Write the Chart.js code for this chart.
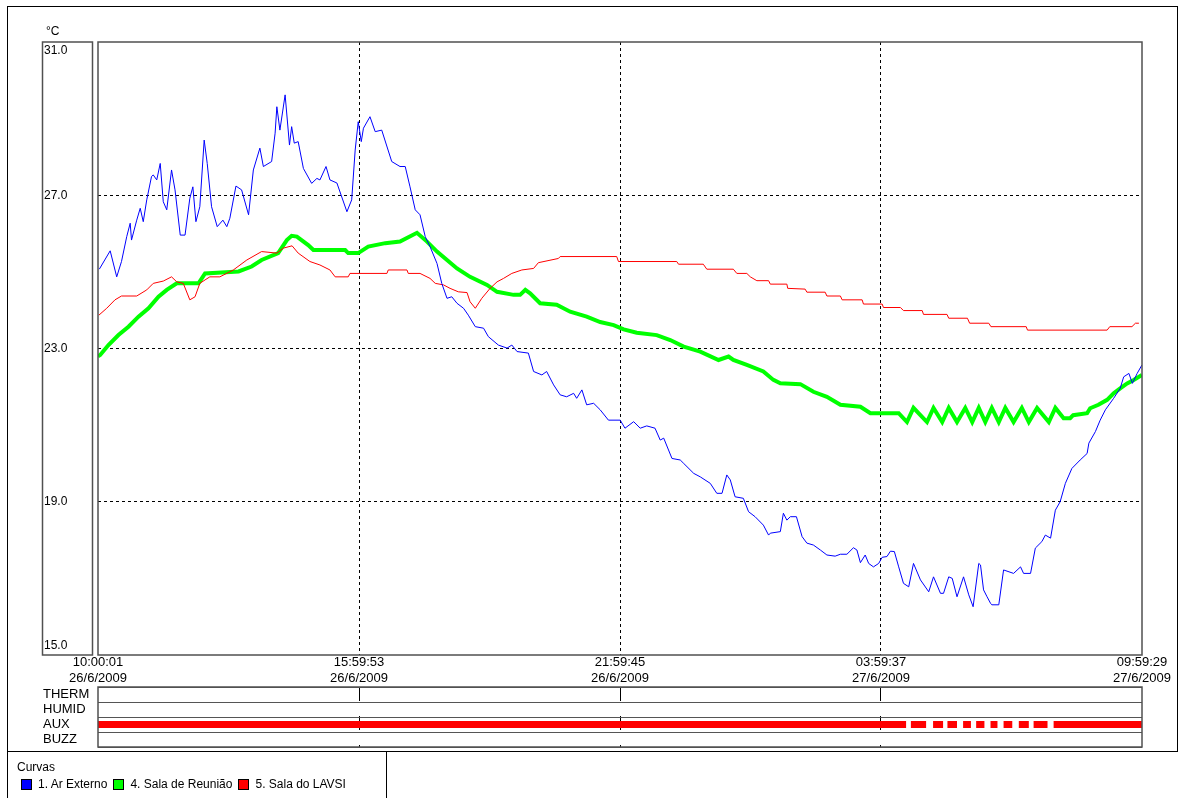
<!DOCTYPE html>
<html>
<head>
<meta charset="utf-8">
<script src="https://cdn.jsdelivr.net/npm/chart.js@4.4.0/dist/chart.umd.min.js"></script>
<style>
  body { margin: 0; background: #fff; font-family: "Liberation Sans", Arial, sans-serif; }
  #page { position: relative; width: 1180px; height: 798px; overflow: hidden; background: #fff; }
  #frame { position: absolute; left: 7px; top: 6px; width: 1169px; height: 744px; border: 1px solid #000; }
  #legendBox { position: absolute; left: 7px; top: 751px; width: 378px; height: 60px;
    border-left: 1px solid #000; border-right: 1px solid #000; }
  #legendTitle { position: absolute; left: 9px; top: 9px; font-size: 12px; color: #000; }
  #legendItems { position: absolute; left: 13px; top: 26px; display: flex; font-size: 12px; color: #000; white-space: nowrap; }
  .item { display: flex; align-items: center; margin-right: 6px; }
  .swatch { width: 9px; height: 9px; border: 1px solid #000; margin-right: 6px; }
  canvas { position: absolute; left: 0; }
</style>
</head>
<body>
<div id="page">
  <div id="frame"></div>
  <canvas id="mainChart" width="1180" height="690" style="top:0"></canvas>
  <canvas id="statusChart" width="1180" height="72" style="top:680px"></canvas>
  <div id="legendBox">
    <div id="legendTitle">Curvas</div>
    <div id="legendItems"></div>
  </div>
</div>
<script>
// time axis in hours since 10:00:01 26/6/2009
const xEnd = 23.9911;
const xTickHours = [0, 5.9978, 11.9956, 17.9933, 23.9911];
const xTickLabels = [
  ['10:00:01', '26/6/2009'],
  ['15:59:53', '26/6/2009'],
  ['21:59:45', '26/6/2009'],
  ['03:59:37', '27/6/2009'],
  ['09:59:29', '27/6/2009']
];
const yTickValues = [15, 19, 23, 27, 31];

const seriesNames = ['1. Ar Externo', '4. Sala de Reunião', '5. Sala do LAVSI'];
const seriesColors = ['#0000ff', '#00ff00', '#ff0000'];

// [hour, °C]
const arExterno = [[0.03,25.07],[0.28,25.55],[0.43,24.87],[0.54,25.27],[0.66,25.92],[0.74,26.27],[0.77,25.83],[0.89,26.35],[0.97,26.66],[1.04,26.31],[1.12,26.88],[1.23,27.49],[1.27,27.53],[1.35,27.40],[1.43,27.83],[1.50,26.83],[1.58,26.62],[1.69,27.66],[1.77,27.14],[1.89,25.96],[2.00,25.96],[2.11,26.92],[2.18,27.22],[2.25,26.31],[2.34,26.70],[2.44,28.44],[2.51,27.83],[2.61,26.70],[2.74,26.18],[2.87,26.35],[2.96,26.18],[3.03,26.40],[3.17,27.24],[3.30,27.14],[3.46,26.49],[3.57,27.66],[3.72,28.23],[3.80,27.75],[3.99,27.88],[4.07,28.62],[4.11,29.31],[4.18,28.70],[4.30,29.62],[4.40,28.31],[4.45,28.79],[4.51,28.36],[4.60,28.40],[4.72,27.70],[4.91,27.31],[5.03,27.44],[5.10,27.40],[5.24,27.75],[5.33,27.40],[5.49,27.32],[5.72,26.57],[5.83,26.88],[5.91,28.18],[5.98,28.92],[6.05,28.40],[6.10,28.75],[6.25,29.05],[6.37,28.66],[6.52,28.70],[6.75,27.88],[6.94,27.75],[7.06,27.75],[7.17,27.22],[7.29,26.62],[7.40,26.49],[7.52,25.92],[7.63,25.66],[7.79,25.22],[7.90,24.70],[8.02,24.31],[8.13,24.35],[8.25,24.18],[8.40,24.05],[8.51,23.87],[8.67,23.57],[8.86,23.53],[8.97,23.31],[9.20,23.09],[9.40,23.01],[9.51,23.09],[9.63,22.92],[9.89,22.88],[10.01,22.40],[10.20,22.31],[10.31,22.40],[10.47,22.05],[10.62,21.79],[10.77,21.74],[10.93,21.83],[11.00,21.70],[11.12,21.92],[11.23,21.53],[11.39,21.57],[11.54,21.40],[11.73,21.13],[12.00,21.13],[12.11,20.92],[12.31,21.09],[12.46,20.92],[12.61,20.98],[12.80,20.92],[12.92,20.61],[13.00,20.66],[13.19,20.13],[13.38,20.09],[13.46,20.00],[13.69,19.74],[13.84,19.65],[14.07,19.48],[14.22,19.22],[14.34,19.22],[14.45,19.70],[14.53,19.57],[14.64,19.13],[14.83,19.09],[14.95,18.74],[15.10,18.61],[15.29,18.39],[15.41,18.13],[15.45,18.18],[15.68,18.22],[15.75,18.70],[15.83,18.52],[15.91,18.61],[16.05,18.61],[16.18,18.09],[16.29,17.92],[16.44,17.87],[16.60,17.74],[16.75,17.61],[16.94,17.58],[17.06,17.63],[17.21,17.63],[17.36,17.80],[17.44,17.74],[17.52,17.41],[17.63,17.61],[17.71,17.39],[17.82,17.30],[17.94,17.39],[18.02,17.55],[18.13,17.57],[18.21,17.71],[18.30,17.70],[18.40,17.30],[18.51,16.87],[18.63,16.78],[18.74,17.39],[18.90,16.96],[19.09,16.65],[19.20,17.04],[19.36,16.61],[19.43,16.61],[19.55,17.04],[19.63,17.00],[19.74,16.52],[19.89,17.04],[20.01,16.57],[20.11,16.26],[20.24,17.39],[20.28,17.35],[20.35,16.70],[20.43,16.52],[20.51,16.35],[20.54,16.31],[20.70,16.31],[20.81,17.22],[21.04,17.13],[21.20,17.30],[21.27,17.13],[21.43,17.13],[21.54,17.79],[21.69,17.96],[21.77,18.13],[21.89,18.05],[22.00,18.78],[22.11,19.00],[22.23,19.48],[22.38,19.87],[22.57,20.09],[22.73,20.26],[22.77,20.53],[22.92,20.83],[23.03,21.13],[23.15,21.40],[23.34,21.70],[23.49,21.96],[23.57,22.26],[23.69,22.35],[23.77,22.09],[23.88,22.35],[23.99,22.57]];

const salaReuniao = [[0.00,22.80],[0.05,22.83],[0.24,23.09],[0.47,23.35],[0.70,23.57],[0.93,23.83],[1.16,24.05],[1.39,24.35],[1.58,24.53],[1.81,24.70],[2.31,24.70],[2.46,24.96],[3.23,25.01],[3.53,25.14],[3.76,25.31],[4.14,25.49],[4.34,25.83],[4.45,25.94],[4.57,25.92],[4.83,25.70],[4.95,25.57],[5.68,25.57],[5.75,25.49],[5.98,25.49],[6.21,25.66],[6.60,25.75],[6.94,25.79],[7.33,26.02],[7.56,25.79],[7.79,25.53],[8.02,25.31],[8.25,25.09],[8.55,24.87],[8.94,24.66],[9.17,24.48],[9.55,24.40],[9.70,24.40],[9.82,24.53],[9.93,24.44],[10.16,24.18],[10.54,24.14],[10.85,23.96],[11.23,23.83],[11.54,23.69],[11.85,23.61],[12.08,23.50],[12.38,23.41],[12.84,23.35],[13.15,23.22],[13.46,23.05],[13.84,22.92],[14.26,22.70],[14.49,22.79],[14.60,22.70],[14.91,22.57],[15.29,22.40],[15.52,22.18],[15.68,22.09],[16.14,22.07],[16.44,21.87],[16.75,21.74],[17.06,21.53],[17.52,21.48],[17.75,21.31],[18.40,21.31],[18.59,21.08],[18.74,21.45],[19.05,21.08],[19.20,21.45],[19.40,21.08],[19.55,21.45],[19.74,21.08],[19.93,21.45],[20.09,21.08],[20.24,21.45],[20.39,21.08],[20.54,21.45],[20.70,21.08],[20.85,21.45],[21.04,21.08],[21.23,21.45],[21.39,21.08],[21.58,21.45],[21.85,21.08],[22.00,21.45],[22.19,21.18],[22.34,21.18],[22.41,21.26],[22.73,21.31],[22.80,21.44],[22.99,21.53],[23.19,21.66],[23.34,21.83],[23.49,21.96],[23.65,22.09],[23.80,22.18],[23.99,22.31]];

const salaLavsi = [[0.02,23.87],[0.20,24.05],[0.39,24.27],[0.54,24.37],[0.89,24.37],[1.12,24.53],[1.27,24.70],[1.50,24.76],[1.69,24.87],[1.81,24.74],[1.96,24.70],[2.11,24.27],[2.23,24.35],[2.34,24.70],[2.46,24.79],[2.57,24.87],[2.80,24.87],[3.11,25.05],[3.42,25.31],[3.76,25.53],[4.11,25.49],[4.26,25.62],[4.46,25.68],[4.60,25.49],[4.87,25.27],[5.10,25.18],[5.33,25.05],[5.45,24.87],[5.75,24.87],[5.79,24.96],[6.64,24.96],[6.67,25.05],[7.10,25.05],[7.13,24.96],[7.40,24.96],[7.63,24.83],[7.75,24.70],[7.94,24.66],[8.09,24.57],[8.28,24.48],[8.48,24.46],[8.55,24.22],[8.67,24.05],[8.82,24.31],[9.01,24.57],[9.17,24.74],[9.32,24.83],[9.51,24.96],[9.74,25.05],[10.01,25.09],[10.12,25.24],[10.58,25.35],[10.62,25.40],[11.92,25.40],[11.96,25.27],[13.30,25.27],[13.34,25.20],[13.91,25.20],[13.99,25.07],[14.60,25.07],[14.68,24.96],[14.91,24.96],[14.99,24.87],[15.14,24.77],[15.41,24.77],[15.45,24.68],[15.83,24.68],[15.85,24.57],[16.25,24.55],[16.29,24.47],[16.71,24.47],[16.75,24.37],[17.06,24.37],[17.10,24.27],[17.56,24.27],[17.59,24.16],[18.02,24.16],[18.05,24.07],[18.44,24.07],[18.51,23.99],[18.94,23.99],[18.97,23.89],[19.51,23.89],[19.55,23.79],[19.98,23.79],[20.03,23.66],[20.47,23.66],[20.52,23.57],[21.33,23.57],[21.36,23.48],[23.19,23.48],[23.25,23.57],[23.76,23.57],[23.84,23.66],[23.92,23.66]];

// status rows and AUX on-periods [start hour, end hour]
const statusRows = ['THERM', 'HUMID', 'AUX', 'BUZZ'];
const auxSegments = [[0,18.57],[18.68,19.03],[19.19,19.42],[19.52,19.74],[19.88,20.06],[20.18,20.37],[20.51,20.67],[20.81,21.01],[21.16,21.39],[21.50,21.82],[21.96,23.99]];

const fontFamily = '"Liberation Sans", Arial, sans-serif';
const frameColor = '#505050';

function toPoints(pairs) {
  return pairs.map(p => ({ x: p[0], y: p[1] }));
}

// legend (html)
const legendItems = document.getElementById('legendItems');
seriesNames.forEach((name, i) => {
  const item = document.createElement('div');
  item.className = 'item';
  item.innerHTML = `<div class="swatch" style="background:${seriesColors[i]}"></div><span>${name}</span>`;
  legendItems.appendChild(item);
});

// plot frame
const framePlugin = {
  id: 'frame',
  afterDraw(chart) {
    const { ctx, chartArea: a } = chart;
    ctx.save();
    ctx.strokeStyle = frameColor;
    ctx.lineWidth = 1.5;
    ctx.strokeRect(a.left, a.top, a.right - a.left, a.bottom - a.top);
    ctx.restore();
  }
};

// y label box on the left and the unit
const yLabelPlugin = {
  id: 'yLabels',
  afterDraw(chart) {
    const { ctx, chartArea: a } = chart;
    const yScale = chart.scales.y;
    ctx.save();
    ctx.strokeStyle = frameColor;
    ctx.lineWidth = 1.5;
    ctx.strokeRect(42.5, a.top, 50, a.bottom - a.top);
    ctx.fillStyle = '#000';
    ctx.font = '12px ' + fontFamily;
    ctx.textAlign = 'left';
    ctx.textBaseline = 'middle';
    yTickValues.forEach(v => {
      let py = yScale.getPixelForValue(v);
      py = Math.min(Math.max(py, a.top + 9), a.bottom - 9);
      ctx.fillText(v.toFixed(1), 44, py);
    });
    ctx.fillText('°C', 46, 32);
    ctx.restore();
  }
};

const edgeTick = (v, list) => v === list[0] || v === list[list.length - 1];

const mainChart = new Chart(document.getElementById('mainChart'), {
  type: 'line',
  data: {
    datasets: [
      { label: seriesNames[0], data: toPoints(arExterno), borderColor: seriesColors[0], borderWidth: 1, order: 0 },
      { label: seriesNames[1], data: toPoints(salaReuniao), borderColor: seriesColors[1], borderWidth: 4, order: 2 },
      { label: seriesNames[2], data: toPoints(salaLavsi), borderColor: seriesColors[2], borderWidth: 1, order: 1 }
    ]
  },
  options: {
    responsive: false,
    animation: false,
    layout: { padding: { left: 98, right: 38, top: 42, bottom: 5 } },
    plugins: { legend: { display: false }, tooltip: { enabled: false } },
    elements: { point: { radius: 0 }, line: { tension: 0 } },
    scales: {
      x: {
        type: 'linear', min: 0, max: xEnd,
        afterBuildTicks: s => { s.ticks = xTickHours.map(v => ({ value: v })); },
        afterFit: s => { s.height = 30; },
        ticks: {
          autoSkip: false, maxRotation: 0, padding: 0, color: '#000',
          font: { family: fontFamily, size: 13, lineHeight: 1.2 },
          callback: (v, i) => xTickLabels[i]
        },
        grid: {
          drawTicks: false, lineWidth: 1,
          color: c => edgeTick(c.tick.value, xTickHours) ? 'rgba(0,0,0,0)' : '#000'
        },
        border: { display: false, dash: [3, 3] }
      },
      y: {
        min: 15, max: 31,
        afterBuildTicks: s => { s.ticks = yTickValues.map(v => ({ value: v })); },
        afterFit: s => { s.width = 0; },
        ticks: { display: false },
        grid: {
          drawTicks: false, lineWidth: 1,
          color: c => edgeTick(c.tick.value, yTickValues) ? 'rgba(0,0,0,0)' : '#000'
        },
        border: { display: false, dash: [3, 3] }
      }
    }
  },
  plugins: [framePlugin, yLabelPlugin]
});

// status strip (THERM / HUMID / AUX / BUZZ)
const auxPoints = [];
auxSegments.forEach(seg => {
  auxPoints.push({ x: seg[0], y: 'AUX' }, { x: seg[1], y: 'AUX' }, { x: seg[1], y: null });
});

const statusChart = new Chart(document.getElementById('statusChart'), {
  type: 'line',
  data: {
    datasets: [{
      label: 'AUX', data: auxPoints, borderColor: '#ff0000', borderWidth: 7,
      borderCapStyle: 'butt', pointRadius: 0, spanGaps: false
    }]
  },
  options: {
    responsive: false,
    animation: false,
    layout: { padding: { left: 43, right: 38, top: 7, bottom: 5 } },
    plugins: { legend: { display: false }, tooltip: { enabled: false } },
    scales: {
      x: {
        type: 'linear', min: 0, max: xEnd,
        afterBuildTicks: s => { s.ticks = xTickHours.map(v => ({ value: v })); },
        afterFit: s => { s.height = 0; s.paddingLeft = 0; s.paddingRight = 0; },
        ticks: { display: false },
        grid: {
          drawTicks: false, lineWidth: 1,
          color: c => edgeTick(c.tick.value, xTickHours) ? 'rgba(0,0,0,0)' : '#000'
        },
        border: { display: false, dash: [14, 15] }
      },
      y: {
        type: 'category', labels: statusRows, offset: true,
        afterFit: s => { s.width = 55; s.paddingTop = 0; s.paddingBottom = 0; },
        ticks: {
          autoSkip: false, crossAlign: 'far', padding: 0, color: '#000',
          font: { family: fontFamily, size: 13, lineHeight: 1 }
        },
        grid: { offset: true, drawTicks: false, color: '#555', lineWidth: 1 },
        border: { display: false }
      }
    }
  },
  plugins: [framePlugin]
});
</script>
</body>
</html>
